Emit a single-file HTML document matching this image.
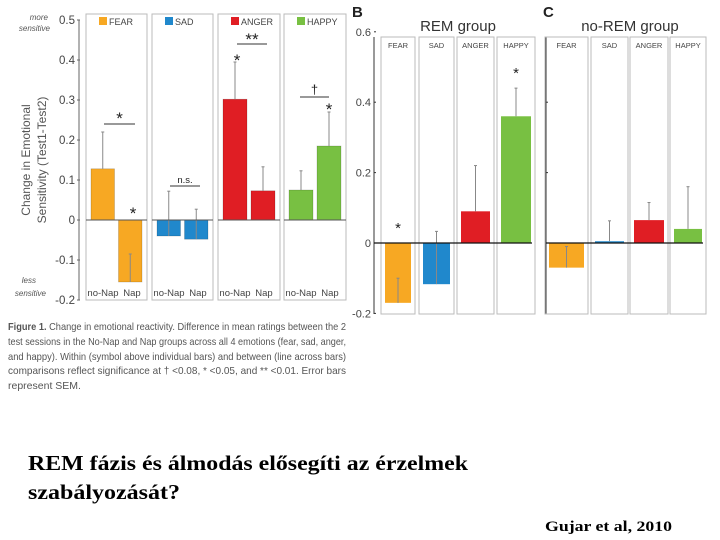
<!DOCTYPE html>
<html><head><meta charset="utf-8">
<style>
html,body{margin:0;padding:0;background:#fff;}
svg{display:block;}
text{font-family:"Liberation Sans",sans-serif;}
.serif{font-family:"Liberation Serif",serif;}
</style></head>
<body>
<svg id="chart" width="720" height="540" viewBox="0 0 720 540" xmlns="http://www.w3.org/2000/svg">
<g id="pa"></g>
<g id="pb"></g>
<g id="pc"></g>
<text x="8" y="330" font-size="10.5" fill="#555" textLength="338" lengthAdjust="spacingAndGlyphs"><tspan font-weight="bold">Figure 1.</tspan> Change in emotional reactivity. Difference in mean ratings between the 2</text>
<text x="8" y="345" font-size="10.5" fill="#555" textLength="338" lengthAdjust="spacingAndGlyphs">test sessions in the No-Nap and Nap groups across all 4 emotions (fear, sad, anger,</text>
<text x="8" y="360" font-size="10.5" fill="#555" textLength="338" lengthAdjust="spacingAndGlyphs">and happy). Within (symbol above individual bars) and between (line across bars)</text>
<text x="8" y="374" font-size="10.5" fill="#555" textLength="338" lengthAdjust="spacingAndGlyphs">comparisons reflect significance at † &lt;0.08, * &lt;0.05, and ** &lt;0.01. Error bars</text>
<text x="8" y="389" font-size="10.5" fill="#555">represent SEM.</text>
<text class="serif" x="28" y="470" font-size="21" font-weight="bold" fill="#000" textLength="440" lengthAdjust="spacingAndGlyphs">REM fázis és álmodás elősegíti az érzelmek</text>
<text class="serif" x="28" y="499" font-size="21" font-weight="bold" fill="#000" textLength="152" lengthAdjust="spacingAndGlyphs">szabályozását?</text>
<text class="serif" x="545" y="531" font-size="15" font-weight="bold" fill="#000" textLength="127" lengthAdjust="spacingAndGlyphs">Gujar et al, 2010</text>
</svg>
<script>
// Panel A data
const emotionsA = ["FEAR","SAD","ANGER","HAPPY"];
const noNapVals = [0.128,-0.04,0.302,0.075];
const napVals = [-0.155,-0.048,0.073,0.185];
const noNapErr = [0.22,0.072,0.395,0.123];
const napErr = [-0.085,0.027,0.133,0.27];
const ticksA = [0.5,0.4,0.3,0.2,0.1,0,-0.1,-0.2];
// Panel B data
const emotionsB = ["FEAR","SAD","ANGER","HAPPY"];
const remVals = [-0.17,-0.117,0.09,0.36];
const remErr = [-0.1,0.033,0.22,0.44];
const ticksB = [0.6,0.4,0.2,0,-0.2];
// Panel C data
const noRemVals = [-0.07,0.005,0.065,0.04];
const noRemErr = [-0.01,0.063,0.115,0.16];
const ticksC = [0.4,0.2];

const colors = ["#F7A823","#2088CC","#E01E24","#78C042"];
const NS="http://www.w3.org/2000/svg";
function mk(parent,tag,attrs,txt){const e=document.createElementNS(NS,tag);for(const k in attrs)e.setAttribute(k,attrs[k]);if(txt!==undefined)e.textContent=txt;parent.appendChild(e);return e;}

// ---------- Panel A ----------
const pa=document.getElementById('pa');
const yA=v=>220-v*400;
const boxA=[[86,147],[152,213],[218,280],[284,346]];
ticksA.forEach(t=>{
  const e=mk(pa,'text',{x:75,y:yA(t)+4,'font-size':11.5,'text-anchor':'end',fill:'#444'},t===0?'0':t.toFixed(1));
  
  
  mk(pa,'line',{x1:77,x2:80,y1:yA(t),y2:yA(t),stroke:'#666'});
});
mk(pa,'line',{x1:79,x2:79,y1:yA(0.5),y2:yA(-0.2),stroke:'#666'});
let t1=mk(pa,'text',{x:0,y:0,'font-size':12,fill:'#555','text-anchor':'middle',transform:'translate(30,160) rotate(-90)'},'Change in Emotional');

mk(pa,'text',{x:0,y:0,'font-size':12,fill:'#555','text-anchor':'middle',transform:'translate(46,160) rotate(-90)'},'Sensitivity (Test1-Test2)');
mk(pa,'text',{x:48,y:20,'font-size':8,'font-style':'italic',fill:'#555','text-anchor':'end'},'more');
mk(pa,'text',{x:50,y:31,'font-size':8,'font-style':'italic',fill:'#555','text-anchor':'end'},'sensitive');
mk(pa,'text',{x:36,y:283,'font-size':8,'font-style':'italic',fill:'#555','text-anchor':'end'},'less');
mk(pa,'text',{x:46,y:296,'font-size':8,'font-style':'italic',fill:'#555','text-anchor':'end'},'sensitive');
emotionsA.forEach((em,i)=>{
  const [x0,x1]=boxA[i];
  const b=mk(pa,'rect',{x:x0,y:14,width:x1-x0,height:286,fill:'none',stroke:'#bbb'});
  
  
  const lg=mk(pa,'rect',{x:x0+13,y:17,width:8,height:8,fill:colors[i]});
  
  
  mk(pa,'text',{x:x0+23,y:25,'font-size':9,fill:'#444'},em);
  const w=(x1-x0);
  [[noNapVals[i],noNapErr[i],x0+5,'no-nap'],[napVals[i],napErr[i],x0+w/2+2,'nap']].forEach(([v,e,bx,nm])=>{
    const bw=w/2-7;
    const r=mk(pa,'rect',{x:bx,y:Math.min(yA(v),yA(0)),width:bw,height:Math.abs(yA(v)-yA(0)),fill:colors[i],stroke:'rgba(0,0,0,0.25)','stroke-width':0.6});
    
    
    const cx=bx+bw/2;
    mk(pa,'line',{x1:cx,x2:cx,y1:yA(v),y2:yA(e),stroke:'#888','stroke-width':1});
    mk(pa,'line',{x1:cx-1.5,x2:cx+1.5,y1:yA(e),y2:yA(e),stroke:'#888'});
  });
  mk(pa,'text',{x:x0+17,y:296,'font-size':9.5,fill:'#444','text-anchor':'middle'},'no-Nap');
  mk(pa,'text',{x:x0+46,y:296,'font-size':9.5,fill:'#444','text-anchor':'middle'},'Nap');
  mk(pa,'line',{x1:x0,x2:x1,y1:yA(0),y2:yA(0),stroke:'#555','stroke-width':1});
});
// significance marks
function sig(g,x1,x2,y,s,sy,fs){mk(g,'line',{x1:x1,x2:x2,y1:y,y2:y,stroke:'#333'});mk(g,'text',{x:(x1+x2)/2,y:sy,'font-size':fs,'text-anchor':'middle',fill:'#222'},s);}
sig(pa,104,135,124,'*',124,17);
sig(pa,170,200,186,'n.s.',183,9.5);
sig(pa,237,267,44,'**',45,17);
sig(pa,300,329,97,'†',94,13);
mk(pa,'text',{x:133,y:219,'font-size':17,'text-anchor':'middle',fill:'#222'},'*');
mk(pa,'text',{x:237,y:66,'font-size':17,'text-anchor':'middle',fill:'#222'},'*');
mk(pa,'text',{x:329,y:115,'font-size':17,'text-anchor':'middle',fill:'#222'},'*');

// ---------- Panel B & C ----------
const yB=v=>243-v*352;
function panel(g,label,lx,title,tx,boxes,vals,errs,ticks,axisX,showLabels,stars){
  mk(g,'text',{x:lx,y:17,'font-size':15,'font-weight':'bold',fill:'#222'},label);
  const tt=mk(g,'text',{x:tx,y:31,'font-size':15,fill:'#333','text-anchor':'middle'},title);
  
  
  mk(g,'line',{x1:axisX,x2:axisX,y1:37,y2:314,stroke:'#333'});
  ticks.forEach(t=>{
    mk(g,'line',{x1:axisX,x2:axisX+2,y1:yB(t),y2:yB(t),stroke:'#333'});
    if(showLabels){
      const e=mk(g,'text',{x:axisX-3,y:yB(t)+4,'font-size':11,'text-anchor':'end',fill:'#444'},t===0?'0':t.toFixed(1));
      
      
    }
  });
  emotionsB.forEach((em,i)=>{
    const [x0,x1]=boxes[i];
    const b=mk(g,'rect',{x:x0,y:37,width:x1-x0,height:277,fill:'none',stroke:'#bbb'});
    
    
    mk(g,'text',{x:(x0+x1)/2,y:48,'font-size':7.5,fill:'#444','text-anchor':'middle'},em);
    const bx=x0+4,bw=x1-x0-8,v=vals[i],e=errs[i];
    const r=mk(g,'rect',{x:bx,y:Math.min(yB(v),yB(0)),width:bw,height:Math.max(1.5,Math.abs(yB(v)-yB(0))),fill:colors[i]});
    
    
    const cx=bx+bw/2;
    mk(g,'line',{x1:cx,x2:cx,y1:yB(v),y2:yB(e),stroke:'#888'});
    mk(g,'line',{x1:cx-1.5,x2:cx+1.5,y1:yB(e),y2:yB(e),stroke:'#888'});
  });
  mk(g,'line',{x1:axisX,x2:boxes[3][1]-3,y1:yB(0),y2:yB(0),stroke:'#111','stroke-width':1.2});
  stars.forEach(([i,v])=>{const [x0,x1]=boxes[i];mk(g,'text',{x:(x0+x1)/2,y:yB(v)-3,'font-size':15,'text-anchor':'middle',fill:'#222'},'*');});
}
panel(document.getElementById('pb'),'B',352,'REM group',458,[[381,415],[419,454],[457,494],[497,535]],remVals,remErr,ticksB,374,true,[[0,0.02],[3,0.46]]);
panel(document.getElementById('pc'),'C',543,'no-REM group',630,[[545,588],[591,628],[630,668],[670,706]],noRemVals,noRemErr,ticksC,546,false,[]);
</script>
</body></html>
